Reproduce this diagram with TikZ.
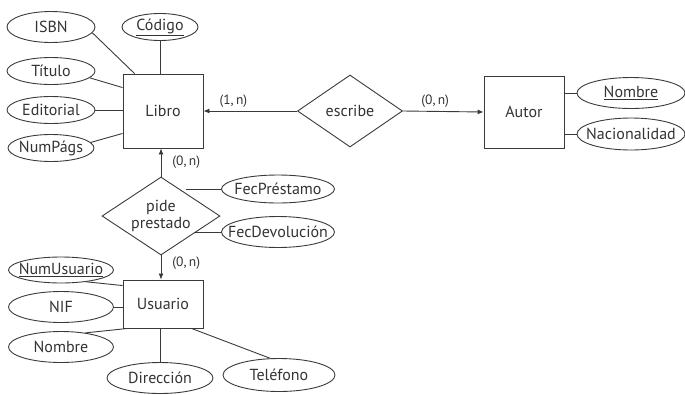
\documentclass[tikz,border=0pt]{standalone}
\usepackage{fontspec}
\setmainfont{PT Sans}
\usetikzlibrary{shapes.geometric,arrows.meta}

\definecolor{ink}{HTML}{3A3A3A}
\definecolor{txt}{HTML}{333333}

% text whose box has no width, so an ellipse keeps its given size
\newcommand{\nowidth}[1]{\makebox[0pt]{#1}}

\begin{document}
\begin{tikzpicture}[x=1pt,y=-1pt,
  every node/.style={text=txt,font=\fontsize{16}{18}\selectfont},
  entity/.style={draw=ink,line width=0.9pt,rectangle,inner sep=0pt},
  attr/.style={draw=ink,line width=0.9pt,ellipse,inner sep=0pt},
  rel/.style={draw=ink,line width=0.9pt,diamond,inner sep=0pt,align=center},
  link/.style={draw=ink,line width=0.9pt},
  card/.style={text=txt,font=\fontsize{13.5}{15}\selectfont,inner sep=1pt},
  tip/.style={-{Latex[length=6pt,width=5pt]}}
]
\useasboundingbox (0,0) rectangle (685,394);

% entities
\node[entity,minimum width=80pt,minimum height=74pt] (libro) at (163,111) {Libro};
\node[entity,minimum width=80pt,minimum height=72pt] (autor) at (524,112) {Autor};
\node[entity,minimum width=80pt,minimum height=48pt] (usuario) at (163,304) {Usuario};

% relationships
\node[rel,minimum width=105pt,minimum height=72pt,aspect=1.46] (escribe) at (350,111) {escribe};
\node[rel,minimum width=118pt,minimum height=78pt,aspect=1.5] (pide) at (161,216) {pide\\[-1pt]prestado};

% attributes of Libro
\node[attr,minimum width=88pt,minimum height=31pt] (isbn) at (51,27) {\nowidth{ISBN}};
\node[attr,minimum width=76pt,minimum height=27pt] (codigo) at (160,27) {\nowidth{\underline{Código}}};
\node[attr,minimum width=88pt,minimum height=27pt] (titulo) at (51,71) {\nowidth{Título}};
\node[attr,minimum width=88pt,minimum height=27pt] (editorial) at (51,110) {\nowidth{Editorial}};
\node[attr,minimum width=86pt,minimum height=27pt] (numpags) at (51,148) {\nowidth{NumPágs}};

% attributes of Autor
\node[attr,minimum width=108pt,minimum height=31pt] (nombreA) at (631,93) {\nowidth{\underline{Nombre}}};
\node[attr,minimum width=108pt,minimum height=32pt] (nacion) at (631,134) {\nowidth{Nacionalidad}};

% attributes of the loan
\node[attr,minimum width=113pt,minimum height=28pt] (fecp) at (278,189) {\nowidth{FecPréstamo}};
\node[attr,minimum width=113pt,minimum height=31pt] (fecd) at (278,232) {\nowidth{FecDevolución}};

% attributes of Usuario
\node[attr,minimum width=105pt,minimum height=26pt] (numusu) at (61,270) {\nowidth{\underline{NumUsuario}}};
\node[attr,minimum width=105pt,minimum height=31pt] (nif) at (61,307) {\nowidth{NIF}};
\node[attr,minimum width=105pt,minimum height=31pt] (nombreU) at (61,347) {\nowidth{Nombre}};
\node[attr,minimum width=106pt,minimum height=31pt] (direccion) at (160,378) {\nowidth{Dirección}};
\node[attr,minimum width=112pt,minimum height=33pt] (telefono) at (279,375) {\nowidth{Teléfono}};

% attribute links
\draw[link] (isbn.-8) -- ([xshift=12pt]libro.north west);
\draw[link] (titulo.-10) -- ([yshift=-14pt]libro.north west);
\draw[link] (editorial.east) -- (editorial.east -| libro.west);
\draw[link] (numpags.8) -- ([yshift=15pt]libro.south west);
\draw[link] (codigo.south) -- (codigo.south |- libro.north);
\draw[link] (nombreA.west) -- (nombreA.west -| autor.east);
\draw[link] (nacion.west) -- (nacion.west -| autor.east);
\draw[link] (fecp.west) -- ++(-35,0);
\draw[link] (fecd.west) -- ++(-27,0);
\draw[link] (numusu.-25) -- ([yshift=-6pt]usuario.north west);
\draw[link] (nif.east) -- (nif.east -| usuario.west);
\draw[link] (nombreU.30) -- ([xshift=5pt]usuario.south west);
\draw[link] (direccion.north) -- (direccion.north |- usuario.south);
\draw[link] (telefono.118) -- ([xshift=69pt]usuario.south west);

% relationship links with cardinalities
\draw[link,tip] (escribe.west) -- (libro.east) node[card,pos=0.68,above=2pt] {(1,\,n)};
\draw[link,tip] (escribe.east) -- (autor.west) node[card,pos=0.4,above=2pt] {(0,\,n)};
\draw[link,tip] (pide.north) -- (pide.north |- libro.south) node[card,pos=0.5,right=10pt] {(0,\,n)};
\draw[link,tip] (pide.south) -- (pide.south |- usuario.north) node[card,pos=0.3,right=10pt] {(0,\,n)};
\end{tikzpicture}
\end{document}
